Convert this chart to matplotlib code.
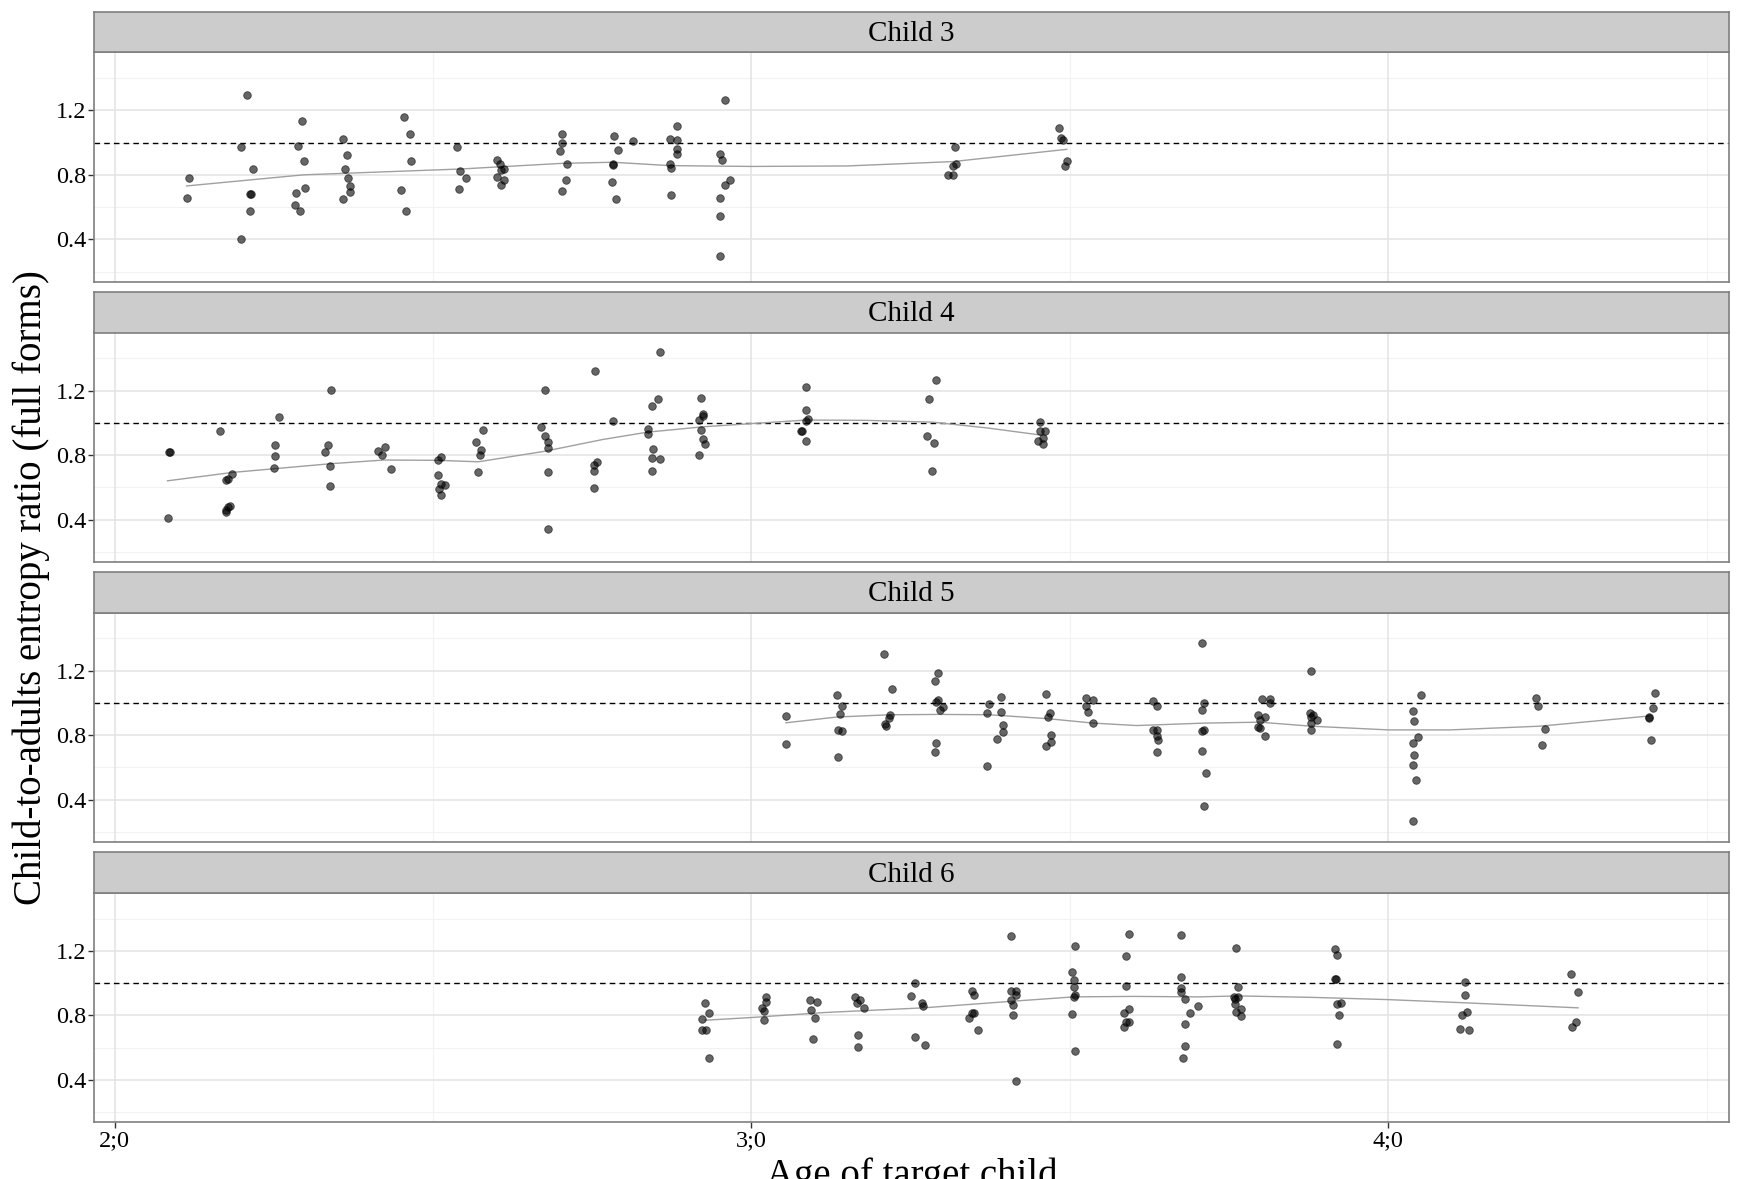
import matplotlib
matplotlib.use("Agg")
import matplotlib.pyplot as plt
import numpy as np

plt.rcParams['font.family'] = ['Liberation Serif', 'DejaVu Serif']

# ---------------- data (age in years, child-to-adults entropy ratio) ----------------
panel_titles = ["Child 3", "Child 4", "Child 5", "Child 6"]

child3_age = [2.113, 2.116, 2.208, 2.198, 2.217, 2.213, 2.214, 2.212, 2.198,
              2.294, 2.288, 2.297, 2.299, 2.285, 2.283, 2.291,
              2.359, 2.365, 2.362, 2.367, 2.370, 2.370, 2.359,
              2.455, 2.464, 2.466, 2.450, 2.458,
              2.538, 2.543, 2.552, 2.541,
              2.600, 2.605, 2.606, 2.612, 2.600, 2.612, 2.606,
              2.702, 2.702, 2.699, 2.710, 2.708, 2.702,
              2.784, 2.790, 2.782, 2.783, 2.781, 2.787, 2.814,
              2.872, 2.883, 2.883, 2.883, 2.883, 2.872, 2.874, 2.874,
              2.959, 2.951, 2.954, 2.966, 2.959, 2.951, 2.951, 2.951,
              3.319, 3.321, 3.316, 3.308, 3.316,
              3.483, 3.486, 3.489, 3.495, 3.492]
child3_ratio = [0.658, 0.782, 1.293, 0.973, 0.838, 0.683, 0.683, 0.576, 0.400,
                1.134, 0.979, 0.884, 0.716, 0.687, 0.611, 0.576,
                1.024, 0.923, 0.834, 0.780, 0.729, 0.691, 0.648,
                1.159, 1.051, 0.884, 0.706, 0.578,
                0.975, 0.822, 0.780, 0.712,
                0.894, 0.865, 0.828, 0.834, 0.789, 0.766, 0.735,
                1.055, 0.995, 0.948, 0.869, 0.766, 0.700,
                1.039, 0.954, 0.865, 0.860, 0.758, 0.648, 1.008,
                1.020, 1.103, 1.016, 0.958, 0.931, 0.869, 0.844, 0.677,
                1.264, 0.931, 0.892, 0.770, 0.737, 0.658, 0.543, 0.299,
                0.975, 0.865, 0.857, 0.799, 0.797,
                1.088, 1.030, 1.016, 0.886, 0.857]
child3_smooth_age = [2.113, 2.297, 2.543, 2.702, 2.782, 2.872, 3.0, 3.15, 3.316, 3.495]
child3_smooth_ratio = [0.731, 0.800, 0.836, 0.871, 0.878, 0.857, 0.852, 0.855, 0.882, 0.958]

child4_age = [2.083, 2.086, 2.087, 2.165, 2.184, 2.178, 2.175, 2.181, 2.178, 2.175, 2.175,
              2.258, 2.252, 2.252, 2.250,
              2.340, 2.335, 2.330, 2.338, 2.338,
              2.414, 2.425, 2.420, 2.434,
              2.513, 2.508, 2.508, 2.513, 2.518, 2.510, 2.513,
              2.579, 2.568, 2.576, 2.573, 2.571,
              2.675, 2.669, 2.675, 2.680, 2.680, 2.680, 2.680,
              2.755, 2.757, 2.752, 2.752, 2.752, 2.782,
              2.856, 2.853, 2.843, 2.837, 2.837, 2.845, 2.843, 2.856, 2.843,
              2.921, 2.924, 2.924, 2.918, 2.921, 2.924, 2.927, 2.918,
              3.086, 3.086, 3.088, 3.086, 3.078, 3.080, 3.086,
              3.289, 3.278, 3.275, 3.286, 3.283,
              3.453, 3.453, 3.461, 3.458, 3.450, 3.458]
child4_ratio = [0.410, 0.817, 0.817, 0.948, 0.685, 0.652, 0.642, 0.483, 0.475, 0.458, 0.446,
                1.035, 0.863, 0.794, 0.719,
                1.202, 0.863, 0.819, 0.733, 0.610,
                0.823, 0.850, 0.800, 0.715,
                0.788, 0.771, 0.677, 0.621, 0.612, 0.592, 0.550,
                0.956, 0.883, 0.829, 0.800, 0.692,
                1.202, 0.971, 0.917, 0.881, 0.842, 0.694, 0.340,
                1.319, 0.756, 0.738, 0.698, 0.596, 1.013,
                1.442, 1.146, 1.106, 0.963, 0.929, 0.840, 0.783, 0.773, 0.702,
                1.152, 1.056, 1.044, 1.019, 0.956, 0.898, 0.871, 0.802,
                1.225, 1.077, 1.021, 1.010, 0.946, 0.946, 0.888,
                1.265, 1.148, 0.921, 0.875, 0.702,
                1.006, 0.950, 0.946, 0.906, 0.890, 0.867]
child4_smooth_age = [2.083, 2.185, 2.339, 2.423, 2.508, 2.571, 2.675, 2.766, 2.837, 2.924,
                     3.0, 3.086, 3.18, 3.284, 3.37, 3.456]
child4_smooth_ratio = [0.640, 0.692, 0.746, 0.769, 0.767, 0.758, 0.823, 0.896, 0.942, 0.975,
                       0.995, 1.017, 1.015, 1.004, 0.968, 0.923]

child5_age = [3.054, 3.054,
              3.134, 3.142, 3.139, 3.136, 3.142, 3.136,
              3.208, 3.221, 3.218, 3.216, 3.210, 3.211,
              3.293, 3.288, 3.293, 3.290, 3.301, 3.296, 3.290, 3.288,
              3.373, 3.392, 3.370, 3.392, 3.395, 3.395, 3.386, 3.370,
              3.463, 3.469, 3.466, 3.471, 3.471, 3.463,
              3.526, 3.537, 3.526, 3.529, 3.537,
              3.631, 3.636, 3.631, 3.636, 3.636, 3.639, 3.636,
              3.708, 3.711, 3.708, 3.708, 3.711, 3.708, 3.713, 3.711,
              3.801, 3.815, 3.815, 3.795, 3.807, 3.798, 3.795, 3.798, 3.807,
              3.879, 3.877, 3.882, 3.879, 3.888, 3.879, 3.879,
              4.051, 4.038, 4.040, 4.046, 4.038, 4.040, 4.038, 4.043, 4.038,
              4.232, 4.235, 4.246, 4.241,
              4.419, 4.416, 4.409, 4.410, 4.413]
child5_ratio = [0.917, 0.744,
                1.052, 0.983, 0.931, 0.833, 0.829, 0.663,
                1.302, 1.087, 0.927, 0.904, 0.869, 0.856,
                1.187, 1.137, 1.021, 1.004, 0.973, 0.954, 0.754, 0.694,
                0.996, 1.035, 0.940, 0.946, 0.865, 0.823, 0.779, 0.608,
                1.056, 0.935, 0.913, 0.800, 0.760, 0.735,
                1.029, 1.021, 0.981, 0.942, 0.875,
                1.013, 0.981, 0.835, 0.831, 0.794, 0.771, 0.696,
                1.369, 0.998, 0.956, 0.829, 0.835, 0.702, 0.565, 0.360,
                1.025, 1.027, 1.002, 0.925, 0.915, 0.896, 0.848, 0.846, 0.798,
                1.200, 0.940, 0.927, 0.915, 0.896, 0.875, 0.835,
                1.048, 0.950, 0.888, 0.790, 0.754, 0.675, 0.613, 0.525, 0.267,
                1.031, 0.979, 0.840, 0.742,
                1.063, 0.967, 0.915, 0.908, 0.769]
child5_smooth_age = [3.054, 3.134, 3.218, 3.296, 3.373, 3.467, 3.537, 3.605, 3.710, 3.798,
                     3.879, 4.0, 4.097, 4.238, 4.409]
child5_smooth_ratio = [0.877, 0.913, 0.927, 0.929, 0.927, 0.902, 0.875, 0.860, 0.875, 0.881,
                       0.856, 0.833, 0.833, 0.856, 0.919]

child6_age = [2.927, 2.933, 2.922, 2.923, 2.929, 2.933,
              3.023, 3.023, 3.017, 3.020, 3.020,
              3.092, 3.103, 3.094, 3.100, 3.097,
              3.163, 3.171, 3.166, 3.176, 3.168, 3.168,
              3.256, 3.250, 3.267, 3.270, 3.256, 3.273,
              3.346, 3.349, 3.346, 3.349, 3.341, 3.355,
              3.407, 3.407, 3.415, 3.415, 3.407, 3.410, 3.410, 3.415,
              3.508, 3.503, 3.506, 3.506, 3.508, 3.506, 3.503, 3.508,
              3.593, 3.588, 3.588, 3.593, 3.585, 3.588, 3.593, 3.585,
              3.675, 3.675, 3.675, 3.675, 3.681, 3.689, 3.681, 3.681, 3.678, 3.701,
              3.761, 3.764, 3.758, 3.764, 3.760, 3.760, 3.768, 3.761, 3.768,
              3.917, 3.920, 3.917, 3.918, 3.925, 3.920, 3.923, 3.920,
              4.120, 4.120, 4.123, 4.115, 4.112, 4.126,
              4.287, 4.298, 4.295, 4.289]
child6_ratio = [0.878, 0.816, 0.780, 0.708, 0.708, 0.538,
                0.915, 0.882, 0.847, 0.826, 0.770,
                0.898, 0.886, 0.834, 0.787, 0.652,
                0.915, 0.898, 0.878, 0.849, 0.677, 0.605,
                1.004, 0.921, 0.875, 0.859, 0.669, 0.619,
                0.950, 0.929, 0.816, 0.816, 0.782, 0.710,
                1.295, 0.954, 0.952, 0.925, 0.898, 0.867, 0.803, 0.396,
                1.231, 1.070, 1.020, 0.977, 0.927, 0.915, 0.811, 0.580,
                1.303, 1.171, 0.981, 0.842, 0.818, 0.758, 0.758, 0.727,
                1.297, 1.039, 0.973, 0.946, 0.904, 0.816, 0.747, 0.609, 0.534, 0.861,
                1.219, 0.977, 0.917, 0.917, 0.904, 0.873, 0.842, 0.822, 0.795,
                1.210, 1.177, 1.026, 1.024, 0.880, 0.869, 0.801, 0.625,
                1.010, 0.925, 0.824, 0.801, 0.718, 0.708,
                1.057, 0.946, 0.758, 0.729]
child6_smooth_age = [2.927, 3.0, 3.115, 3.270, 3.410, 3.506, 3.60, 3.703, 3.764, 3.88, 4.0,
                     4.122, 4.298]
child6_smooth_ratio = [0.770, 0.787, 0.818, 0.847, 0.888, 0.915, 0.918, 0.915, 0.921, 0.912,
                       0.898, 0.878, 0.847]

ages = [child3_age, child4_age, child5_age, child6_age]
ratios = [child3_ratio, child4_ratio, child5_ratio, child6_ratio]
smooth_ages = [child3_smooth_age, child4_smooth_age, child5_smooth_age, child6_smooth_age]
smooth_ratios = [child3_smooth_ratio, child4_smooth_ratio, child5_smooth_ratio, child6_smooth_ratio]

x_ticks = [2, 3, 4]
x_tick_labels = ["2;0", "3;0", "4;0"]
y_ticks = [0.4, 0.8, 1.2]
y_tick_labels = ["0.4", "0.8", "1.2"]
reference_level = 1.0

# ---------------- layout ----------------
W, H = 1747, 1179
fig = plt.figure(figsize=(W / 100, H / 100), dpi=100)

left_px, right_px = 94.3, 1729
panel_top0, panel_bot0, strip_top0 = 52.3, 281.7, 11.7
step = 280.2
border_col = "#7f7f7f"

def fx(px):
    return px / W

def fy(py):
    return 1 - py / H

for k in range(4):
    ptop = panel_top0 + step * k
    pbot = panel_bot0 + step * k
    stop = strip_top0 + step * k
    ax = fig.add_axes([fx(left_px), fy(pbot), fx(right_px - left_px), (pbot - ptop) / H])
    ax.set_xlim(1.968, 4.535)
    ax.set_ylim(0.137, 1.56)
    # grid
    for xv in [2.5, 3.5, 4.5]:
        ax.axvline(xv, color="#f2f2f2", lw=0.8, zorder=0)
    for yv in [0.2, 0.6, 1.0, 1.4]:
        ax.axhline(yv, color="#f2f2f2", lw=0.8, zorder=0)
    for xv in x_ticks:
        ax.axvline(xv, color="#e3e3e3", lw=1.1, zorder=0)
    for yv in y_ticks:
        ax.axhline(yv, color="#e3e3e3", lw=1.1, zorder=0)
    ax.axhline(reference_level, color="black", lw=1.0, ls=(0, (4, 3)), zorder=1)
    ax.scatter(ages[k], ratios[k], s=30, facecolor="black", edgecolor="black",
               linewidths=0.6, alpha=0.6, zorder=3)
    ax.plot(smooth_ages[k], smooth_ratios[k], color="#a0a0a0", lw=1.0, zorder=2)
    ax.set_yticks(y_ticks)
    ax.set_yticklabels(y_tick_labels, fontsize=17.5)
    ax.set_xticks(x_ticks)
    if k == 3:
        ax.set_xticklabels(x_tick_labels, fontsize=17.5)
        ax.tick_params(axis="x", length=4, width=1.0, color="#333333", pad=2)
    else:
        ax.tick_params(axis="x", length=0, labelbottom=False)
    ax.tick_params(axis="y", length=4, width=1.0, color="#333333", pad=2)
    for s in ax.spines.values():
        s.set_color(border_col)
        s.set_linewidth(1.2)

    sax = fig.add_axes([fx(left_px), fy(ptop), fx(right_px - left_px), (ptop - stop) / H])
    sax.set_facecolor("#cccccc")
    sax.set_xticks([])
    sax.set_yticks([])
    for s in sax.spines.values():
        s.set_color(border_col)
        s.set_linewidth(1.2)
    sax.text(0.5, 0.45, panel_titles[k], ha="center", va="center", fontsize=21,
             transform=sax.transAxes)

fig.text(fx(31), fy(588),
         "Child-to-adults entropy ratio (full forms)", rotation=90,
         ha="center", va="center", fontsize=28)
fig.text(fx((left_px + right_px) / 2), fy(1157), "Age of target child",
         ha="center", va="top", fontsize=28)

fig.savefig("out.png", dpi=100)
